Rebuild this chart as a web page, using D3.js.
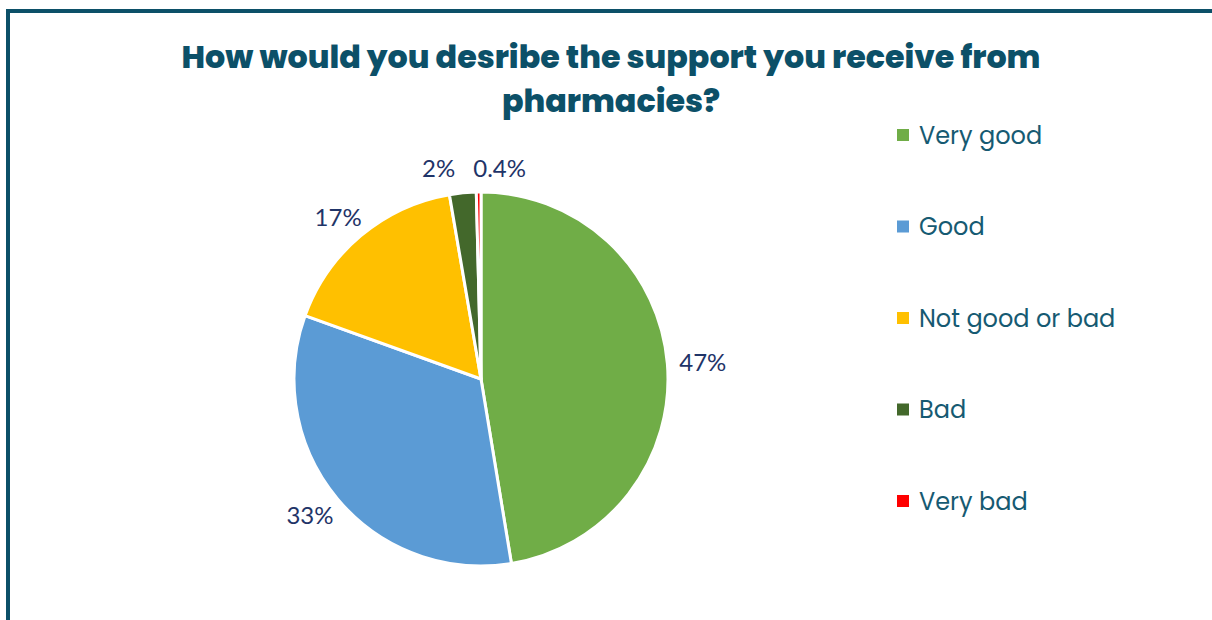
<!DOCTYPE html>
<html><head><meta charset="utf-8">
<script src="https://cdn.jsdelivr.net/npm/d3@7"></script>
<style>html,body{margin:0;padding:0;background:#fff;overflow:hidden}</style>
</head><body>
<svg id="chart" width="1212" height="620"></svg>
<script>
const titleLines = ["How would you desribe the support you receive from", "pharmacies?"];
const categories = ["Very good", "Good", "Not good or bad", "Bad", "Very bad"];
const values = [47.4, 33.1, 16.8, 2.3, 0.4];
const labels = ["47%", "33%", "17%", "2%", "0.4%"];
const colors = ["#70ad47", "#5b9bd5", "#ffc000", "#43682b", "#ff0000"];

const svg = d3.select("#chart");
const W = 1212, H = 620;
svg.append("rect").attr("width", W).attr("height", H).attr("fill", "#fff");
// frame
svg.append("path").attr("d", `M8,${H+10} L8,11 L${W+10},11`)
  .attr("fill", "none").attr("stroke", "#0c5068").attr("stroke-width", 4);

// title
const titleFont = "'Poppins','Lato','Open Sans',sans-serif";
const t = svg.append("g");
const tl = t.selectAll("text").data(titleLines).join("text")
  .attr("x", 611).attr("y", (d, i) => 68 + i * 44)
  .attr("text-anchor", "middle").attr("font-family", titleFont)
  .attr("font-weight", 800).attr("font-size", 32).attr("fill", "#0c5068")
  .text(d => d);
const w0 = tl.node().getComputedTextLength();
tl.attr("font-size", 32 * 859 / w0);

// pie
const cx = 481, cy = 379, R = 187;
const pie = d3.pie().sort(null).value(d => d)(values);
const arc = d3.arc().innerRadius(0).outerRadius(R);
const g = svg.append("g").attr("transform", `translate(${cx},${cy})`);
g.selectAll("path").data(pie).join("path")
  .attr("d", arc).attr("fill", (d, i) => colors[i])
  .attr("stroke", "#fff").attr("stroke-width", 3).attr("stroke-linejoin", "round");

// labels: outside end, box offset along the mid angle
const lbl = g.selectAll("text.lbl").data(pie).join("text").attr("class", "lbl")
  .attr("text-anchor", "middle").attr("dominant-baseline", "central")
  .attr("font-family", "'Lato','Open Sans',sans-serif").attr("font-size", 24)
  .attr("fill", "#1f3468").text((d, i) => labels[i]);
const gapR = R + 12;
const pos = [];
lbl.each(function(d, i) {
  const a = (d.startAngle + d.endAngle) / 2;
  const bb = this.getBBox();
  const x = Math.sin(a) * gapR + Math.sin(a) * bb.width / 2;
  const y = -Math.cos(a) * gapR - Math.cos(a) * 13;
  pos.push({x, y, w: bb.width});
});
for (let i = 1; i < pos.length; i++) {
  const p = pos[i - 1], q = pos[i];
  const need = p.w / 2 + q.w / 2 + 18;
  const dx = q.x - p.x;
  if (Math.abs(q.y - p.y) < 26 && dx < need) {
    const shift = (need - dx) / 2;
    p.x -= shift; q.x += shift;
    p.y = q.y = Math.min(p.y, q.y);
  }
}
lbl.attr("x", (d, i) => pos[i].x).attr("y", (d, i) => pos[i].y);

// legend
const ly = d3.scalePoint().domain(categories).range([135, 501]);
const items = svg.append("g").selectAll("g").data(categories).join("g")
  .attr("transform", d => `translate(897,${ly(d)})`);
items.append("rect").attr("x", 0).attr("y", -6).attr("width", 12).attr("height", 12)
  .attr("fill", (d, i) => colors[i]);
items.append("text").attr("x", 22).attr("y", 0).attr("dominant-baseline", "central")
  .attr("font-family", "'Poppins','Lato','Open Sans',sans-serif").attr("font-size", 24)
  .attr("fill", "#165a72").text(d => d);
</script>
</body></html>
